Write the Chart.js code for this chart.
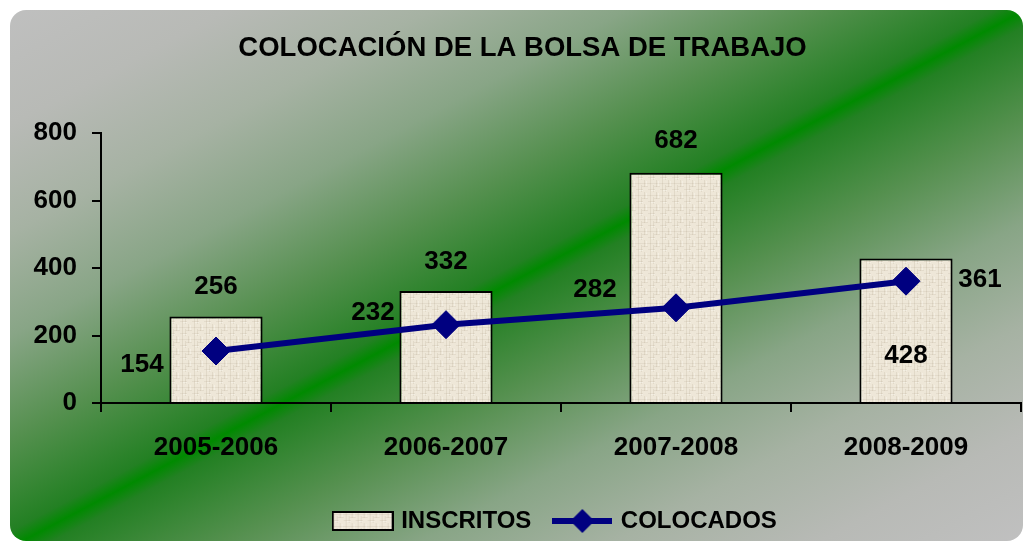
<!DOCTYPE html>
<html><head><meta charset="utf-8">
<style>html,body{margin:0;padding:0;background:#fff;overflow:hidden}#wrap{width:1024px;height:542px;position:relative}</style>
<script src="https://cdn.jsdelivr.net/npm/chart.js@4.4.0/dist/chart.umd.min.js"></script>
</head><body><div id="wrap"><canvas id="c" width="1024" height="542"></canvas></div>
<script>
// ---- data ----
const categories = ['2005-2006', '2006-2007', '2007-2008', '2008-2009'];
const inscritos = [256, 332, 682, 428];
const colocados = [154, 232, 282, 361];
const yTickValues = [0, 200, 400, 600, 800];
const seriesNames = ['INSCRITOS', 'COLOCADOS'];
const titleText = 'COLOCACIÓN DE LA BOLSA DE TRABAJO';

// ---- styles ----
const FONT = "'Liberation Sans', Arial, sans-serif";
const NAVY = '#000080';
const barLabelOffsets = [[0, -30], [0, -29], [0, -32], [0, 97]];
const lineLabelOffsets = [[-74, 14], [-73, -12], [-81, -18], [74, -1]];
const LEG_FONT = 24, LEG_PAD = 24.5;

function makeTile() {
  const t = document.createElement('canvas');
  t.width = 12; t.height = 12;
  const g = t.getContext('2d');
  g.fillStyle = '#eee7d8'; g.fillRect(0, 0, 12, 12);
  g.fillStyle = 'rgba(140,120,90,0.13)';
  g.fillRect(2, 0, 1, 12); g.fillRect(8, 0, 1, 7); g.fillRect(5, 5, 1, 7);
  g.fillStyle = 'rgba(140,120,90,0.10)';
  g.fillRect(0, 3, 12, 1); g.fillRect(0, 9, 7, 1); g.fillRect(6, 6, 6, 1);
  g.fillStyle = 'rgba(255,255,250,0.35)';
  g.fillRect(10, 1, 1, 5); g.fillRect(3, 10, 4, 1);
  return t;
}
const tile = makeTile();
const ctxMain = document.getElementById('c').getContext('2d');
const barPattern = ctxMain.createPattern(tile, 'repeat');

function legendBarImg() {
  const c = document.createElement('canvas'); c.width = 62; c.height = 20;
  const g = c.getContext('2d');
  g.fillStyle = g.createPattern(tile, 'repeat'); g.fillRect(1, 1, 60, 18);
  g.strokeStyle = '#000'; g.lineWidth = 2; g.strokeRect(1, 1, 60, 18);
  return c;
}
function legendLineImg() {
  const c = document.createElement('canvas'); c.width = 60; c.height = 28;
  const g = c.getContext('2d');
  g.strokeStyle = NAVY; g.lineWidth = 6;
  g.beginPath(); g.moveTo(0, 14); g.lineTo(60, 14); g.stroke();
  g.fillStyle = NAVY; g.beginPath();
  g.moveTo(30, 2); g.lineTo(42, 14); g.lineTo(30, 26); g.lineTo(18, 14); g.closePath(); g.fill();
  return c;
}
const legImgs = [legendBarImg(), legendLineImg()];

const bgPlugin = {
  id: 'bg',
  beforeDraw(chart) {
    const c = chart.ctx;
    c.save();
    c.fillStyle = '#ffffff'; c.fillRect(0, 0, chart.width, chart.height);
    const grad = c.createLinearGradient(288, -152, 736, 694);
    const stops = [[0, '#c0c0c0'], [0.12, '#b8bab6'], [0.22, '#a6b2a3'], [0.315, '#88a586'],
      [0.41, '#55904f'], [0.495, '#238023'], [0.51, '#008a00'], [0.525, '#238023'],
      [0.61, '#55904f'], [0.705, '#88a586'], [0.8, '#a6b2a3'], [0.9, '#b8bab6'], [1, '#c0c0c0']];
    stops.forEach(s => grad.addColorStop(s[0], s[1]));
    c.fillStyle = grad;
    c.beginPath();
    c.roundRect(10, 10, 1013, 531, 16);
    c.fill();
    c.restore();
  }
};

const shiftBoxes = {
  id: 'shiftBoxes',
  afterLayout(chart) {
    const l = chart.legend;
    if (l) {
      l.left += 46; l.right += 46;
      const h = l.bottom - l.top;
      l.top = 484.5; l.bottom = l.top + h;
    }
    const t = chart.titleBlock;
    if (t) { t.left += 12; t.right += 12; t.top += 1; t.bottom += 1; }
  }
};

const labelsPlugin = {
  id: 'valueLabels',
  afterDatasetsDraw(chart) {
    const c = chart.ctx;
    c.save();
    c.font = 'bold 26px ' + FONT;
    c.fillStyle = '#000';
    c.textAlign = 'center';
    c.textBaseline = 'middle';
    chart.getDatasetMeta(0).data.forEach((el, i) => {
      c.fillText(String(inscritos[i]), el.x + barLabelOffsets[i][0], el.y + barLabelOffsets[i][1]);
    });
    chart.getDatasetMeta(1).data.forEach((el, i) => {
      c.fillText(String(colocados[i]), el.x + lineLabelOffsets[i][0], el.y + lineLabelOffsets[i][1]);
    });
    c.restore();
  }
};

Chart.defaults.font.family = FONT;
Chart.defaults.color = '#000';

new Chart(ctxMain, {
  data: {
    labels: categories,
    datasets: [
      {
        type: 'bar', label: seriesNames[0], data: inscritos, order: 1,
        backgroundColor: barPattern, borderColor: '#000', borderWidth: 2,
        categoryPercentage: 1, barPercentage: 0.405
      },
      {
        type: 'line', label: seriesNames[1], data: colocados, order: 0,
        borderColor: NAVY, borderWidth: 6, backgroundColor: NAVY,
        pointStyle: 'rectRot', pointRadius: 14, pointHoverRadius: 14,
        pointBackgroundColor: NAVY, pointBorderColor: NAVY, pointBorderWidth: 1,
        tension: 0, fill: false, clip: false
      }
    ]
  },
  options: {
    responsive: false, animation: false, devicePixelRatio: 1,
    layout: { autoPadding: false, padding: { left: 0, right: 3, top: 0, bottom: 0 } },
    plugins: {
      title: {
        display: true, text: titleText, color: '#000',
        font: { size: 27.5, weight: 'bold' },
        padding: { top: 30.5, bottom: 69.5 }
      },
      legend: {
        display: true, position: 'bottom',
        labels: {
          usePointStyle: true, pointStyleWidth: 53, padding: LEG_PAD,
          font: { size: LEG_FONT, weight: 'bold' }, color: '#000',
          generateLabels(chart) {
            return chart.data.datasets.map((ds, i) => ({
              text: ds.label, pointStyle: legImgs[i], fillStyle: 'transparent',
              strokeStyle: 'transparent', lineWidth: 0, hidden: false, datasetIndex: i
            }));
          }
        }
      },
      tooltip: { enabled: false }
    },
    scales: {
      x: {
        offset: true,
        grid: { offset: true, drawOnChartArea: false, drawTicks: true, tickLength: 9, color: '#000', lineWidth: 2 },
        border: { display: true, color: '#000', width: 2 },
        ticks: { padding: 20, font: { size: 26, weight: 'bold' }, color: '#000', maxRotation: 0 },
        afterFit(s) {
          s.height = 542 - 403 - (LEG_FONT + LEG_PAD + 10);
          s.paddingLeft = 0; s.paddingRight = 0;
        }
      },
      y: {
        min: 0, max: 800,
        afterBuildTicks(s) { s.ticks = yTickValues.map(v => ({ value: v })); },
        grid: { drawOnChartArea: false, drawTicks: true, tickLength: 9, color: '#000', lineWidth: 2 },
        border: { display: true, color: '#000', width: 2 },
        ticks: { padding: 15, font: { size: 26, weight: 'bold' }, color: '#000' },
        afterFit(s) { s.width = 101; }
      }
    }
  },
  plugins: [bgPlugin, shiftBoxes, labelsPlugin]
});
</script></body></html>
